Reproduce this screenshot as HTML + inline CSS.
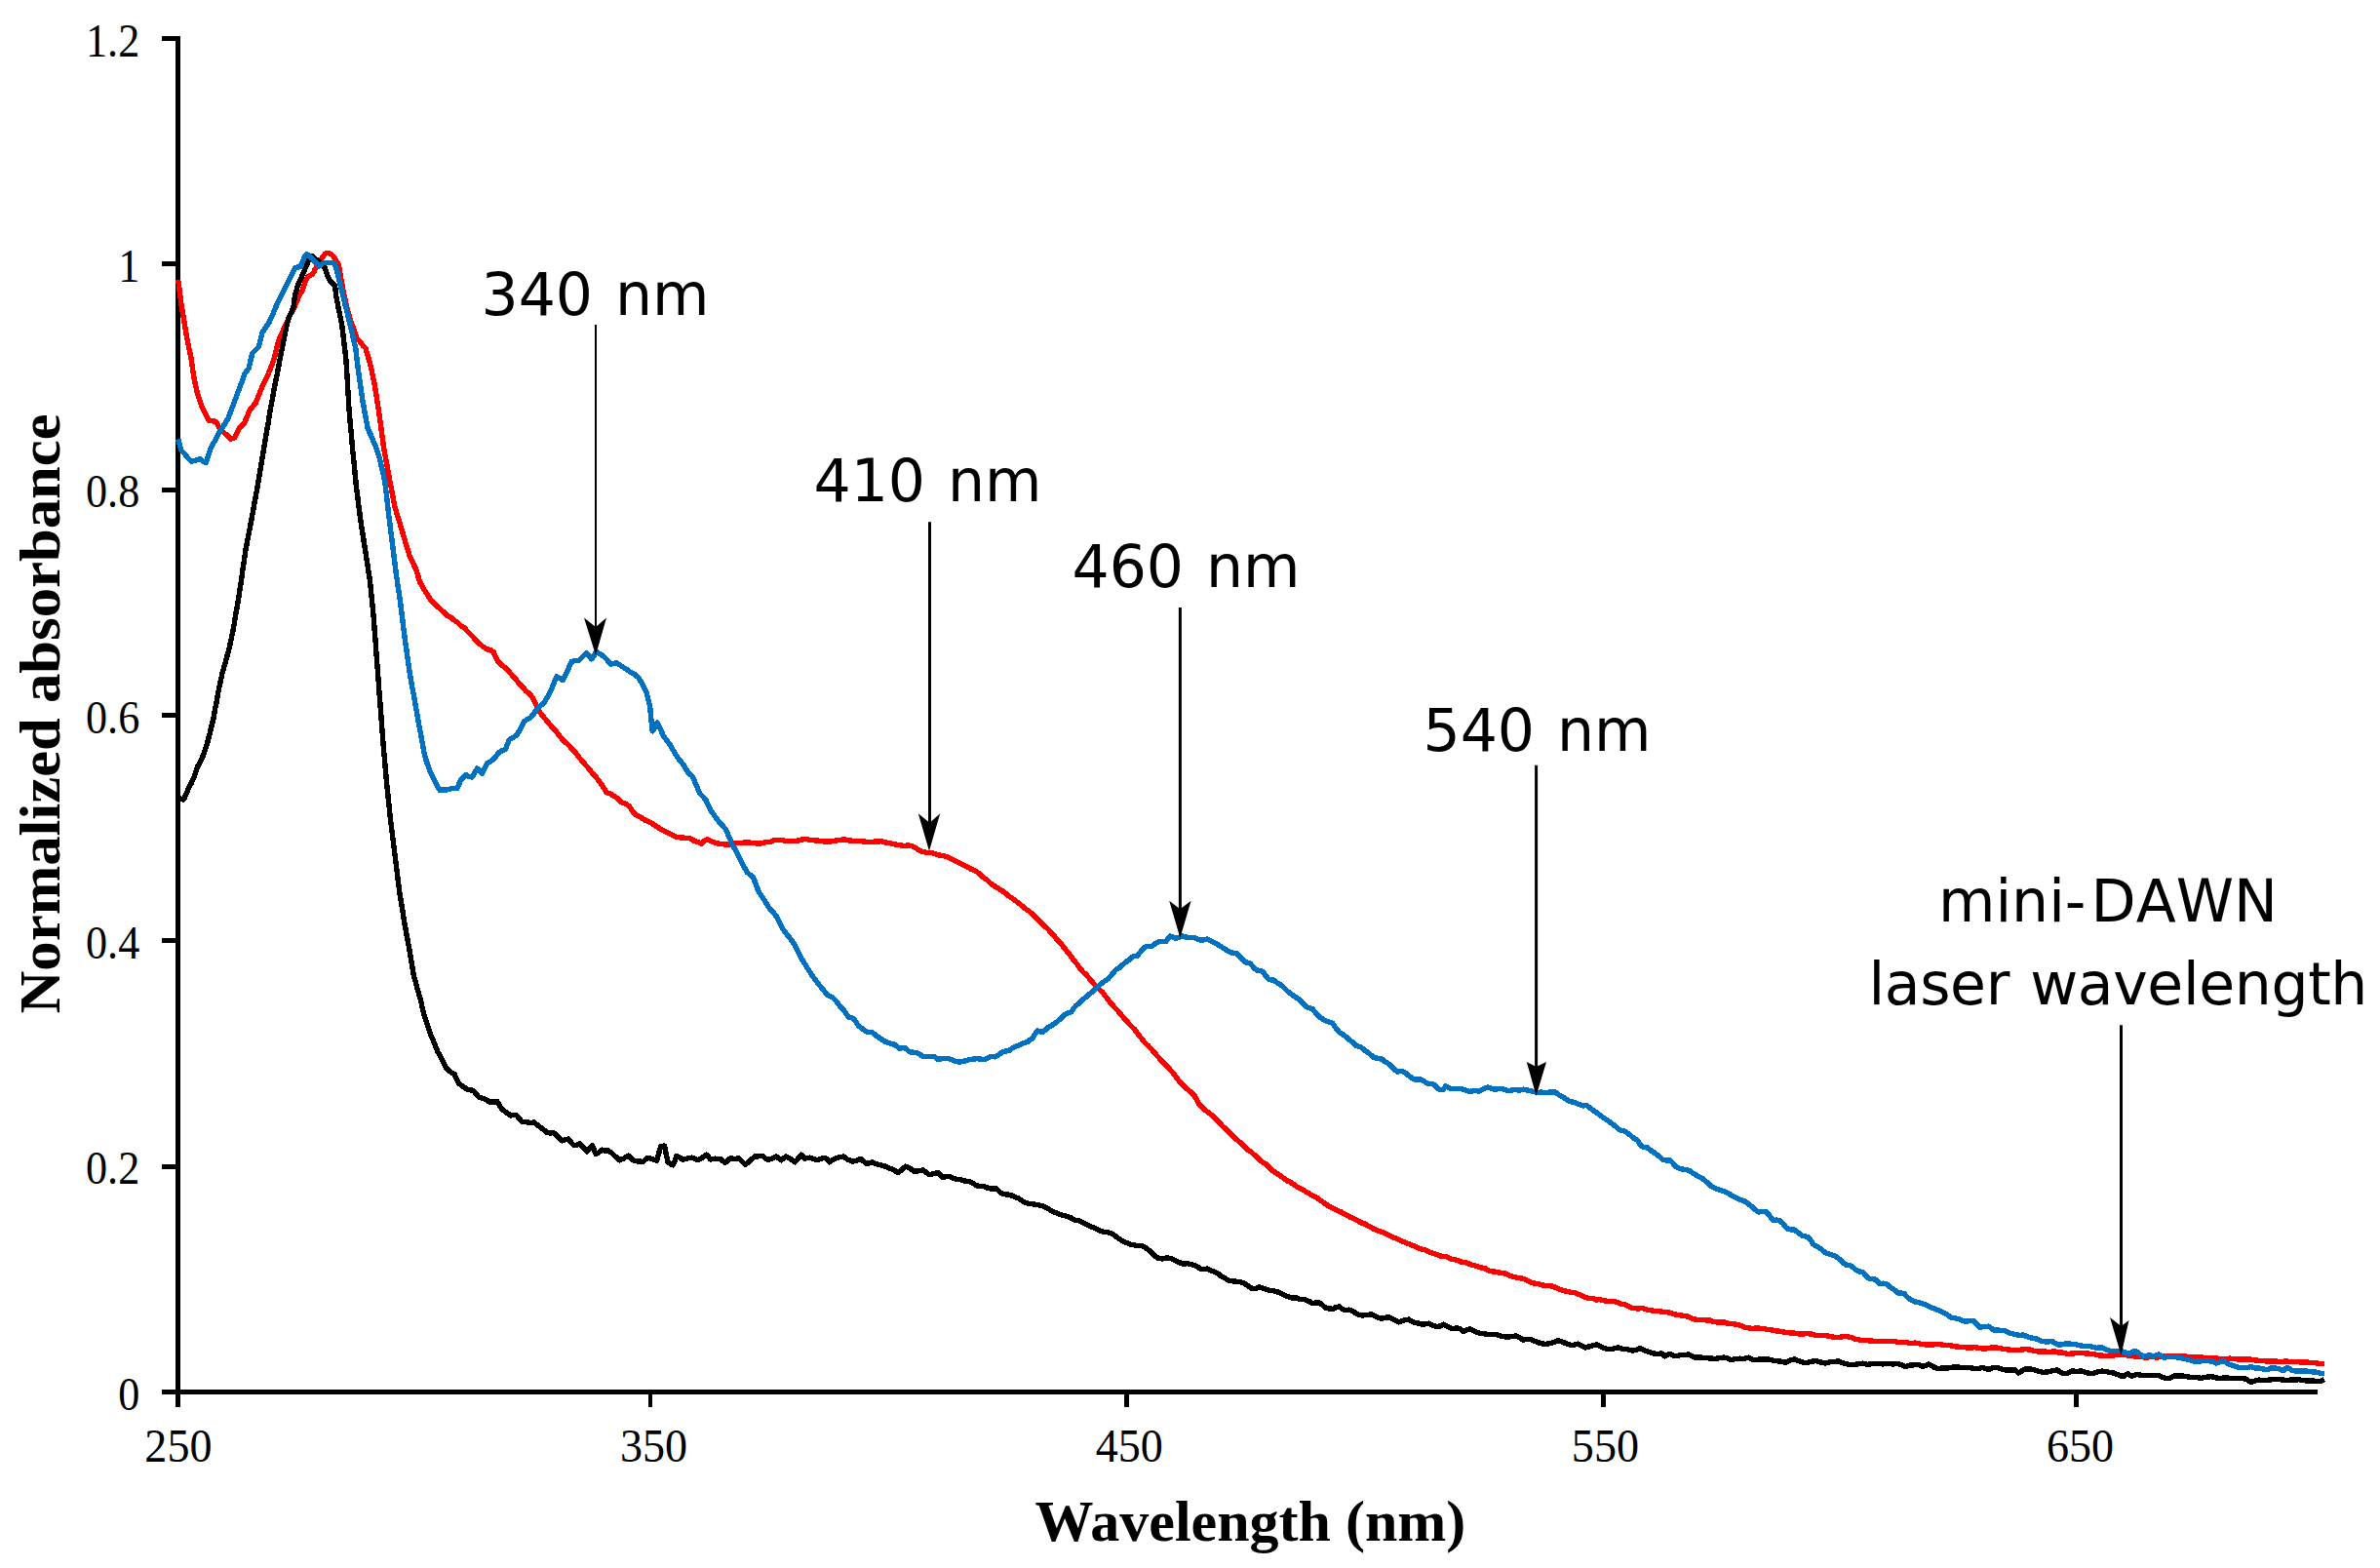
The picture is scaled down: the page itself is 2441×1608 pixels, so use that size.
<!DOCTYPE html>
<html lang="en"><head><meta charset="utf-8"><title>Normalized absorbance vs wavelength</title>
<style>html,body{margin:0;padding:0;background:#fff}body{width:2441px;height:1608px;overflow:hidden}svg{display:block}</style>
</head><body>
<svg width="2441" height="1608" viewBox="0 0 2441 1608">
<rect width="2441" height="1608" fill="#fff"/>
<g shape-rendering="crispEdges" fill="#000">
<rect x="180" y="37" width="5" height="1406"/>
<rect x="166" y="1425" width="2211" height="5"/>
<rect x="166" y="1194" width="16" height="5"/>
<rect x="166" y="962" width="16" height="5"/>
<rect x="166" y="731" width="16" height="5"/>
<rect x="166" y="500" width="16" height="5"/>
<rect x="166" y="268" width="16" height="5"/>
<rect x="166" y="37" width="16" height="5"/>
<rect x="665" y="1428" width="4" height="15"/>
<rect x="1153" y="1428" width="5" height="15"/>
<rect x="1642" y="1428" width="5" height="15"/>
<rect x="2127" y="1428" width="5" height="15"/>
</g>
<polyline class="curve" shape-rendering="crispEdges" points="182.7,287.0 183.4,292.3 184.1,297.7 184.8,303.2 185.5,308.4 186.2,313.8 187.0,318.9 187.9,324.0 188.8,329.0 189.6,334.2 190.5,339.3 191.3,344.4 192.3,349.6 193.3,354.4 194.4,359.6 195.4,364.6 196.4,369.9 197.1,375.0 197.8,380.0 198.5,385.0 199.4,389.3 200.4,394.2 201.4,398.7 202.3,403.0 204.0,408.2 205.7,413.3 207.4,418.3 209.5,422.3 211.7,426.4 213.8,431.0 217.6,431.7 221.4,432.3 223.9,436.4 226.5,441.2 229.9,443.9 233.3,446.9 236.7,450.2 240.6,448.9 243.1,443.5 245.7,438.7 248.2,436.1 250.8,433.6 252.5,429.3 254.2,425.3 255.9,420.8 259.1,417.0 262.2,413.2 264.3,408.1 266.4,402.7 268.5,397.5 270.8,392.6 273.2,387.5 275.5,382.5 277.2,378.2 278.9,374.4 280.6,369.9 281.9,365.0 283.1,359.9 284.4,354.7 285.7,349.5 288.0,344.3 290.2,339.1 292.5,334.1 294.8,329.1 296.2,326.1 298.2,321.9 300.1,318.6 302.1,314.6 303.6,310.7 305.2,307.2 306.7,303.1 309.6,299.1 311.3,293.9 313.0,288.8 315.9,283.6 320.5,281.3 321.9,278.8 323.4,275.6 325.2,272.8 327.0,269.5 330.3,264.7 333.1,260.5 335.0,259.6 337.5,259.6 340.6,261.5 342.4,263.5 344.1,266.4 345.8,269.0 347.5,272.1 348.1,276.3 348.8,280.2 349.8,285.9 350.8,291.7 351.6,296.2 352.4,300.3 353.6,305.6 354.8,310.8 356.0,316.3 357.4,321.3 358.8,326.1 360.2,330.3 361.6,334.2 363.1,338.3 364.5,342.5 366.0,347.0 369.0,350.2 372.0,354.2 375.0,357.1 376.3,361.7 377.6,365.9 378.8,370.4 380.1,375.0 381.1,379.3 382.0,383.8 382.9,388.5 383.9,392.9 384.6,397.0 385.3,401.3 386.0,405.5 386.8,410.6 387.5,415.6 388.3,420.9 389.0,425.8 389.8,431.0 390.6,436.7 391.3,442.1 392.1,447.8 392.8,453.4 393.6,459.1 394.6,464.6 395.6,470.5 396.7,476.0 397.7,481.4 398.7,487.1 399.8,492.8 400.8,498.1 401.9,503.7 403.0,509.4 404.0,514.8 405.1,520.3 406.6,525.2 408.2,530.8 409.7,535.4 411.3,540.6 412.8,545.8 414.3,551.0 415.8,555.9 417.4,561.0 418.9,566.0 420.4,571.3 422.5,575.3 424.7,579.9 426.8,584.1 428.1,588.2 429.3,592.6 430.6,596.8 433.1,601.2 435.7,605.8 438.3,609.6 440.8,613.8 443.4,617.2 447.6,621.0 451.9,624.9 456.1,628.7 459.5,631.7 462.9,633.5 466.3,636.4 469.7,638.6 473.1,641.9 476.5,644.0 479.7,647.8 482.9,650.8 486.1,654.3 489.3,658.1 492.7,660.9 496.1,663.7 499.5,665.7 502.7,666.6 505.9,668.3 508.4,673.7 511.0,678.5 515.5,682.7 519.9,686.1 523.1,690.0 526.3,693.7 529.5,697.2 532.7,701.4 535.9,704.1 539.0,708.3 542.2,710.7 545.4,714.2 548.0,719.4 550.5,724.2 553.1,729.5 556.5,734.0 559.9,738.1 563.3,742.2 567.1,746.5 571.0,750.8 574.8,755.8 578.6,760.1 582.0,763.0 585.4,766.6 588.8,770.2 592.0,774.1 595.1,778.2 598.3,781.8 601.5,785.5 604.7,789.1 607.9,793.5 611.1,796.7 614.3,800.8 616.8,804.2 619.4,808.3 621.9,812.3 625.8,814.1 629.6,816.1 633.4,818.8 637.2,822.5 641.0,824.0 644.9,826.3 647.5,830.0 650.0,834.0 653.4,836.2 656.8,837.8 660.2,840.4 665.3,842.8 670.4,845.5 674.7,848.5 678.9,851.1 683.2,853.1 688.3,855.8 693.4,858.2 697.6,858.9 701.9,859.2 706.1,859.5 709.5,860.7 712.8,862.8 716.0,863.4 719.1,865.3 722.3,862.5 725.5,860.7 730.6,863.3 735.7,864.8 740.8,865.7 745.9,866.1 750.4,866.3 754.8,864.3 759.3,864.7 763.8,864.0 769.7,864.2 775.7,864.9 781.6,864.8 785.9,863.4 790.1,863.3 794.4,861.5 800.3,861.3 806.3,862.4 812.2,862.8 816.5,862.3 820.7,861.6 825.0,860.2 829.3,861.1 833.5,861.7 837.8,862.0 842.9,862.7 848.0,863.2 853.1,862.8 857.3,861.9 861.6,861.7 865.8,860.7 870.3,861.8 874.8,862.3 879.2,862.2 883.7,862.8 888.8,863.3 893.9,863.4 899.0,862.9 904.1,862.8 908.3,864.0 912.6,864.6 916.8,865.8 921.9,866.6 927.0,867.3 932.1,867.1 937.2,868.4 941.0,870.9 944.9,873.0 950.0,874.3 955.1,874.2 959.6,876.0 964.0,877.1 968.5,877.9 973.0,879.3 977.2,881.7 981.5,883.7 985.7,885.7 990.8,888.2 995.9,891.2 1001.0,893.4 1004.8,896.1 1008.6,900.0 1012.5,902.4 1016.3,906.1 1020.1,908.8 1023.9,911.2 1027.8,913.4 1031.6,916.3 1035.4,919.4 1039.2,922.0 1043.1,925.1 1046.9,927.8 1050.7,931.4 1054.6,933.9 1058.4,936.9 1062.2,940.6 1066.0,944.2 1069.9,948.4 1073.8,951.8 1077.6,955.9 1081.0,959.4 1084.4,963.9 1087.8,967.3 1091.2,971.7 1094.6,975.8 1098.0,980.1 1101.2,984.8 1104.5,988.6 1107.7,993.1 1110.9,996.8 1114.1,999.8 1117.2,1003.5 1120.4,1007.1 1123.8,1010.8 1127.2,1014.3 1130.6,1017.3 1133.2,1021.1 1135.7,1024.1 1138.3,1027.6 1141.7,1031.5 1145.1,1035.0 1148.5,1039.0 1151.0,1041.9 1153.6,1045.4 1157.0,1048.8 1160.4,1052.5 1163.8,1055.6 1166.3,1059.3 1168.9,1062.6 1171.4,1065.8 1174.6,1069.7 1177.8,1072.6 1181.0,1076.0 1184.2,1079.8 1188.0,1084.0 1191.8,1088.3 1195.2,1091.6 1198.6,1095.2 1202.0,1099.0 1205.4,1103.3 1208.8,1107.8 1212.2,1112.0 1216.5,1115.8 1220.7,1119.5 1225.0,1123.5 1227.5,1128.4 1230.1,1132.7 1234.6,1137.2 1239.0,1140.6 1243.5,1144.1 1248.0,1148.5 1251.2,1151.3 1254.3,1155.4 1257.5,1157.8 1260.7,1161.5 1264.5,1165.2 1268.3,1168.6 1272.2,1171.8 1276.0,1175.5 1279.8,1179.2 1283.7,1181.7 1287.5,1185.2 1291.3,1189.0 1294.7,1191.6 1298.1,1193.8 1301.5,1197.0 1304.0,1199.6 1306.6,1201.5 1310.9,1204.2 1315.1,1207.1 1319.4,1210.5 1324.5,1212.9 1329.6,1216.6 1334.7,1219.4 1339.8,1222.2 1344.9,1225.3 1350.0,1228.0 1353.8,1230.7 1357.7,1233.4 1361.5,1236.0 1365.3,1238.0 1370.4,1240.9 1375.5,1243.0 1380.6,1246.0 1385.7,1248.6 1390.8,1250.8 1395.9,1253.8 1400.4,1255.3 1404.8,1258.0 1409.3,1260.4 1413.8,1262.2 1418.2,1263.7 1422.7,1265.8 1427.1,1267.9 1431.6,1270.0 1436.7,1272.4 1441.8,1274.3 1446.9,1276.5 1452.0,1278.5 1457.1,1280.7 1462.2,1282.1 1467.3,1284.5 1472.4,1286.0 1477.5,1288.1 1482.7,1288.4 1487.8,1291.1 1492.9,1292.0 1498.0,1293.9 1503.1,1294.6 1508.2,1296.7 1513.3,1298.1 1518.4,1299.7 1523.5,1301.0 1526.3,1302.8 1529.1,1303.6 1534.2,1304.3 1539.3,1305.4 1544.4,1306.1 1548.2,1308.1 1552.0,1309.2 1557.1,1310.6 1562.2,1311.2 1567.3,1313.8 1572.4,1315.8 1577.6,1316.6 1582.7,1318.1 1586.5,1318.6 1590.3,1318.6 1595.4,1320.3 1600.5,1322.7 1605.6,1324.0 1610.7,1325.2 1615.8,1325.8 1620.1,1327.8 1624.3,1329.8 1628.6,1331.4 1632.8,1331.4 1637.1,1332.9 1641.3,1332.7 1645.6,1333.9 1649.8,1334.4 1654.1,1334.2 1658.3,1335.5 1662.6,1337.1 1666.8,1338.0 1670.0,1339.3 1673.2,1341.1 1679.0,1342.0 1684.7,1341.6 1689.8,1343.3 1694.9,1344.1 1700.7,1344.5 1706.4,1345.4 1712.2,1346.1 1717.9,1348.0 1722.1,1348.6 1726.4,1349.4 1730.6,1350.0 1734.4,1351.9 1738.3,1353.1 1743.4,1353.4 1748.5,1353.8 1753.3,1353.8 1758.0,1355.7 1762.8,1355.9 1767.9,1355.8 1773.0,1357.5 1778.1,1357.7 1782.3,1358.5 1786.6,1360.0 1790.8,1361.5 1796.5,1362.4 1802.3,1362.0 1808.0,1362.5 1813.8,1363.5 1818.0,1364.1 1822.3,1365.0 1826.5,1365.3 1831.6,1366.5 1836.7,1366.9 1841.8,1367.3 1846.9,1368.2 1852.0,1367.7 1857.1,1367.9 1862.2,1369.4 1867.3,1369.6 1872.4,1369.7 1877.6,1370.6 1882.7,1371.7 1887.8,1371.1 1892.9,1370.4 1898.0,1371.4 1903.1,1373.3 1908.2,1374.2 1913.3,1374.7 1918.4,1374.9 1923.5,1375.7 1928.6,1375.5 1933.7,1375.8 1938.8,1375.5 1943.9,1375.8 1949.0,1376.7 1954.1,1376.3 1959.2,1377.5 1964.3,1377.1 1969.4,1378.1 1974.5,1378.8 1979.6,1379.2 1984.7,1378.7 1989.8,1378.8 1994.9,1379.6 2000.0,1379.7 2005.1,1380.8 2010.2,1381.4 2015.3,1381.7 2020.4,1382.2 2025.5,1381.6 2030.6,1382.7 2035.7,1383.2 2040.8,1382.2 2045.9,1381.9 2050.4,1382.4 2054.9,1383.6 2059.3,1383.9 2063.8,1384.4 2068.0,1384.2 2072.3,1384.2 2076.5,1383.7 2081.6,1383.9 2086.7,1385.4 2091.8,1386.2 2096.9,1385.9 2102.0,1386.6 2107.1,1385.7 2111.4,1387.2 2115.6,1387.1 2119.9,1388.3 2125.9,1388.1 2131.8,1387.4 2137.8,1387.8 2142.9,1388.2 2148.0,1388.8 2153.1,1390.0 2158.2,1390.3 2163.7,1390.7 2169.2,1389.7 2174.7,1389.5 2180.1,1389.7 2185.6,1390.1 2191.0,1391.3 2196.4,1391.6 2201.5,1392.3 2206.6,1391.0 2211.7,1392.0 2216.8,1391.6 2222.8,1390.6 2228.7,1390.6 2234.7,1390.8 2239.8,1390.7 2244.9,1391.7 2250.0,1391.5 2255.1,1392.1 2260.2,1392.2 2265.3,1392.9 2270.4,1392.5 2275.5,1393.4 2281.2,1393.9 2287.0,1393.1 2292.8,1393.8 2298.5,1393.9 2303.6,1393.9 2308.7,1394.2 2313.8,1395.1 2318.9,1395.4 2324.0,1395.9 2329.2,1395.9 2334.4,1396.1 2339.6,1396.4 2344.8,1396.0 2350.0,1396.7 2355.0,1396.3 2360.0,1397.0 2365.0,1396.8 2369.8,1397.4 2374.5,1397.6 2379.2,1398.5 2384.0,1398.4" fill="none" stroke="#ff0000" stroke-width="5.4" stroke-linejoin="round" stroke-linecap="butt"/>
<polyline class="curve" shape-rendering="crispEdges" points="183.2,818.7 188.3,820.0 190.0,816.5 191.7,812.6 193.4,808.5 195.9,803.7 198.5,798.3 199.8,794.2 201.0,790.7 202.3,786.8 204.7,782.6 207.0,778.5 208.8,773.3 210.7,767.7 212.5,762.7 213.8,757.4 215.1,752.4 216.3,747.2 217.6,742.2 218.9,737.1 219.9,731.3 220.9,725.7 222.0,720.4 223.0,714.7 224.0,709.1 224.9,704.6 225.9,700.2 226.9,695.6 227.8,691.2 229.4,685.3 231.0,679.9 232.6,674.1 234.2,668.3 235.5,662.6 236.8,656.9 238.0,651.3 239.3,645.3 240.2,639.8 241.1,634.4 242.0,628.8 243.0,623.4 243.9,618.0 244.8,612.4 245.7,607.0 246.5,601.5 247.3,596.2 248.1,590.8 248.8,585.4 249.6,579.9 250.4,574.6 251.2,569.0 252.0,563.7 253.1,558.0 254.1,552.6 255.2,547.2 256.3,541.4 257.3,535.9 258.4,530.5 259.3,525.3 260.2,520.1 261.1,515.1 262.1,510.1 263.0,505.1 263.9,499.8 264.8,494.8 265.7,489.3 266.6,483.8 267.5,478.3 268.5,473.0 269.4,467.5 270.3,461.9 271.2,456.5 272.1,450.9 273.0,445.7 273.9,440.2 274.9,434.8 275.8,429.1 276.7,423.8 277.6,418.3 278.6,413.1 279.6,407.7 280.5,402.5 281.5,397.0 282.7,391.2 283.8,385.9 285.0,380.0 285.8,375.4 286.6,371.1 287.5,366.5 288.3,362.2 289.4,357.1 290.4,351.9 291.5,346.8 292.5,341.5 293.6,336.4 294.6,331.0 296.1,326.1 297.7,322.3 299.4,318.8 301.0,314.6 301.7,308.9 302.4,303.1 304.1,297.3 305.9,291.7 307.6,288.2 309.3,283.9 311.0,280.2 312.6,276.2 314.3,272.3 315.9,268.7 317.0,265.8 318.2,263.0 320.0,262.5 323.4,265.3 327.4,268.7 330.2,271.2 333.1,274.4 334.6,279.0 336.0,283.1 337.4,286.3 338.9,288.8 341.2,290.5 343.5,292.8 344.1,297.9 344.6,303.1 345.8,308.9 346.9,314.6 348.0,320.2 349.2,326.1 350.0,330.2 350.8,334.2 351.4,339.6 352.1,344.7 352.7,350.1 353.3,355.5 354.0,360.7 354.6,366.0 355.0,370.7 355.3,375.6 355.6,380.3 356.0,385.0 356.3,390.6 356.6,396.1 356.9,401.6 357.3,407.2 357.6,412.8 357.9,418.3 358.4,423.7 358.8,429.1 359.3,434.5 359.8,439.9 360.3,445.4 360.8,450.8 361.2,456.2 361.7,461.6 362.3,467.1 362.8,472.5 363.4,478.0 363.9,483.4 364.5,489.0 365.0,494.5 365.6,499.9 366.2,504.9 366.9,510.2 367.5,515.1 368.1,520.3 368.8,525.4 369.4,530.5 370.2,535.9 371.1,541.6 371.9,547.1 372.8,552.6 373.6,558.2 374.5,563.7 375.4,569.1 376.2,574.7 377.1,580.3 377.9,585.6 378.8,591.4 379.6,596.8 380.1,602.2 380.7,607.8 381.2,613.1 381.8,618.7 382.3,624.1 382.9,629.5 383.4,635.1 383.8,640.8 384.2,646.4 384.7,652.1 385.1,657.8 385.5,663.4 385.9,669.1 386.4,674.7 386.8,680.5 387.2,686.1 387.6,691.7 388.1,697.5 388.5,703.2 388.9,708.8 389.4,714.5 389.8,720.1 390.2,725.8 390.7,731.4 391.1,737.1 391.5,742.6 391.9,748.2 392.4,753.8 392.8,759.5 393.2,765.0 393.7,770.5 394.2,776.1 394.7,781.6 395.2,787.3 395.7,792.7 396.2,798.3 396.7,803.8 397.3,809.2 397.8,814.6 398.4,820.0 398.9,825.5 399.5,831.0 400.0,836.5 400.7,842.4 401.5,848.2 402.2,853.9 402.9,859.8 403.6,865.5 404.4,871.5 405.1,877.3 405.8,883.1 406.6,889.1 407.3,894.8 408.0,900.8 408.7,906.4 409.5,912.5 410.2,918.2 411.1,923.3 411.9,928.2 412.8,933.6 413.6,938.5 414.4,943.7 415.3,948.8 416.3,954.3 417.3,960.1 418.4,965.4 419.4,971.3 420.4,976.8 421.3,982.5 422.3,988.4 423.2,994.0 424.2,999.8 425.8,1005.3 427.4,1011.5 429.0,1017.1 430.6,1022.8 431.9,1027.7 433.1,1033.2 434.4,1038.3 435.7,1043.2 437.4,1048.1 439.1,1053.1 440.8,1058.5 442.7,1063.3 444.6,1067.8 446.6,1073.0 448.5,1077.6 451.1,1082.4 453.6,1087.3 456.1,1092.0 458.7,1096.7 462.5,1099.6 466.3,1101.8 468.2,1106.5 470.2,1110.8 474.6,1114.1 479.1,1117.1 482.3,1117.9 485.5,1118.4 488.1,1121.4 490.6,1124.8 494.4,1126.0 498.2,1127.7 502.0,1129.9 505.9,1130.2 509.7,1129.4 512.2,1133.3 514.8,1137.6 519.2,1140.7 523.7,1143.9 526.9,1143.6 530.1,1143.9 532.7,1147.2 535.2,1150.3 539.5,1150.6 543.7,1151.4 548.0,1151.1 550.0,1152.8 553.8,1155.7 557.7,1158.6 561.5,1161.7 564.7,1161.9 567.9,1161.7 570.9,1164.7 573.8,1167.6 576.8,1169.9 580.0,1168.7 583.2,1168.1 585.8,1171.7 588.3,1174.5 591.5,1174.3 594.6,1172.7 598.5,1177.3 602.3,1180.9 604.8,1177.4 607.4,1174.5 609.3,1178.9 611.2,1183.4 614.4,1181.6 617.6,1179.1 620.8,1180.1 624.0,1180.1 627.8,1182.8 631.7,1186.5 635.5,1189.8 640.0,1187.8 644.4,1185.2 647.6,1188.2 650.8,1190.6 655.2,1191.0 659.7,1191.3 662.2,1188.9 664.8,1187.2 669.2,1188.6 673.7,1190.3 675.0,1185.2 676.3,1180.5 677.6,1175.8 681.4,1175.0 682.7,1180.7 683.9,1186.7 685.2,1192.3 690.3,1194.9 692.2,1190.1 694.1,1185.2 697.3,1187.2 700.5,1189.3 705.0,1187.9 709.4,1187.2 712.6,1188.3 715.8,1189.8 720.2,1187.2 724.7,1184.2 726.7,1186.5 728.6,1189.0 733.7,1188.2 738.8,1188.5 741.3,1190.8 743.9,1192.3 746.5,1190.1 749.0,1187.8 753.5,1188.5 757.9,1187.8 761.1,1191.1 764.3,1194.4 767.7,1191.7 771.1,1188.7 774.5,1186.0 778.3,1185.8 782.1,1185.2 784.7,1187.7 787.2,1189.3 791.7,1188.3 796.2,1186.0 798.8,1188.1 801.3,1189.8 803.8,1187.8 806.4,1186.0 810.8,1188.4 815.3,1191.8 818.5,1188.3 821.7,1184.2 825.5,1188.0 830.6,1187.2 834.5,1188.4 838.3,1189.8 842.1,1188.3 845.9,1187.2 848.5,1189.0 851.0,1191.8 854.2,1189.3 857.4,1187.8 861.2,1186.7 865.1,1186.0 869.5,1189.1 874.0,1191.1 878.5,1190.1 882.9,1188.5 886.1,1191.3 889.3,1193.6 894.4,1191.8 898.8,1193.6 903.3,1194.9 907.8,1196.1 912.2,1198.0 916.7,1199.9 921.2,1202.6 925.0,1199.5 928.8,1196.2 933.3,1198.2 937.8,1201.3 942.2,1200.8 946.7,1200.0 949.9,1202.3 953.1,1204.6 957.5,1203.7 962.0,1202.6 964.5,1204.8 967.1,1207.7 970.3,1206.4 973.5,1206.4 977.3,1208.0 981.1,1209.7 985.4,1209.8 989.6,1211.1 993.9,1211.5 997.7,1213.4 1001.5,1215.8 1005.4,1216.4 1009.2,1216.6 1013.0,1218.2 1016.8,1219.1 1021.9,1219.1 1024.5,1221.5 1027.0,1223.7 1031.3,1224.8 1035.5,1225.3 1039.8,1226.8 1044.9,1229.1 1050.0,1232.5 1055.1,1234.4 1060.2,1234.9 1065.3,1235.8 1070.4,1237.0 1075.5,1239.9 1080.6,1242.9 1085.1,1244.5 1089.5,1246.3 1094.0,1247.2 1098.5,1249.0 1102.7,1251.3 1107.0,1251.8 1111.2,1254.1 1116.3,1256.8 1121.4,1258.9 1126.5,1261.2 1131.6,1263.3 1136.7,1263.8 1141.8,1265.8 1145.9,1269.1 1150.0,1271.9 1153.6,1273.7 1158.7,1275.9 1163.8,1277.0 1167.6,1277.6 1171.4,1277.6 1175.2,1279.7 1179.1,1282.7 1182.9,1286.7 1186.7,1289.8 1191.8,1290.9 1196.9,1289.9 1202.0,1290.8 1207.4,1293.8 1212.8,1295.9 1217.9,1295.8 1223.0,1296.9 1227.5,1298.7 1231.9,1301.5 1235.1,1301.7 1238.3,1301.0 1243.4,1303.5 1248.5,1305.4 1252.3,1308.5 1256.1,1310.6 1259.9,1313.0 1265.0,1313.9 1270.2,1314.4 1275.3,1315.6 1279.8,1318.6 1284.2,1321.4 1288.0,1321.4 1291.8,1319.9 1296.9,1321.5 1302.0,1323.2 1307.1,1324.0 1311.6,1325.3 1316.0,1327.8 1320.5,1329.5 1325.0,1330.9 1329.3,1330.9 1333.5,1332.6 1337.8,1332.7 1342.2,1334.3 1346.7,1336.7 1349.9,1335.9 1353.1,1336.0 1356.2,1338.1 1359.4,1341.1 1363.2,1341.9 1367.1,1342.3 1370.3,1340.6 1373.5,1339.8 1376.7,1342.3 1379.8,1343.6 1383.7,1343.2 1387.5,1344.4 1390.7,1346.9 1393.9,1348.7 1398.1,1348.9 1402.4,1348.3 1406.6,1348.0 1411.1,1350.1 1415.6,1352.0 1420.0,1351.7 1424.5,1350.5 1429.6,1353.4 1434.7,1355.9 1439.8,1354.0 1444.9,1353.1 1448.1,1355.1 1451.3,1356.4 1455.1,1357.1 1458.9,1358.2 1462.1,1357.8 1465.3,1357.1 1469.2,1358.9 1473.0,1360.7 1476.8,1360.0 1480.6,1358.2 1484.4,1360.1 1488.3,1362.2 1491.4,1362.5 1494.6,1361.7 1497.8,1363.0 1501.0,1365.3 1504.2,1363.8 1507.4,1362.8 1512.5,1365.3 1517.6,1367.3 1522.3,1367.8 1526.9,1368.5 1531.6,1368.4 1535.9,1368.8 1540.1,1370.5 1544.4,1370.9 1549.5,1370.8 1554.6,1369.9 1558.4,1371.6 1562.2,1374.2 1566.1,1373.3 1569.9,1373.5 1575.0,1375.7 1580.1,1377.6 1585.2,1378.4 1590.3,1377.6 1594.2,1376.3 1598.0,1374.7 1602.2,1376.1 1606.5,1377.8 1610.7,1379.3 1614.6,1379.2 1618.4,1378.1 1622.2,1380.0 1626.0,1381.9 1631.8,1380.4 1637.5,1378.8 1641.3,1380.6 1645.2,1382.6 1649.0,1383.7 1654.1,1383.2 1659.2,1381.9 1664.3,1383.5 1669.4,1383.8 1674.5,1385.2 1678.3,1384.1 1682.1,1382.7 1687.2,1385.0 1692.3,1386.7 1697.4,1388.3 1700.6,1388.7 1703.8,1387.8 1707.7,1390.8 1712.8,1388.3 1715.9,1390.1 1719.1,1390.8 1723.4,1389.7 1727.6,1389.6 1731.9,1389.0 1735.1,1390.4 1738.3,1392.1 1743.4,1391.9 1748.5,1392.6 1753.6,1392.9 1758.4,1393.4 1763.1,1392.8 1767.9,1392.1 1771.7,1392.8 1775.5,1394.6 1780.0,1393.6 1784.5,1393.2 1788.9,1393.3 1793.4,1392.1 1798.5,1394.6 1803.6,1394.2 1808.7,1393.9 1814.4,1394.2 1820.2,1395.6 1825.9,1396.0 1831.6,1397.2 1836.1,1394.9 1840.6,1393.9 1845.0,1395.7 1849.5,1397.2 1853.7,1397.3 1858.0,1396.4 1862.2,1395.4 1867.3,1397.0 1872.4,1398.0 1876.7,1396.8 1880.9,1396.7 1885.2,1395.9 1890.3,1397.7 1895.4,1399.2 1900.5,1399.5 1905.6,1398.9 1910.7,1398.1 1915.8,1399.4 1920.9,1398.2 1926.0,1398.5 1931.1,1398.9 1936.2,1398.4 1941.3,1398.9 1946.4,1398.5 1950.2,1399.8 1954.1,1401.5 1958.3,1400.1 1962.6,1399.9 1966.8,1399.2 1971.9,1401.5 1975.1,1400.2 1978.3,1399.0 1982.8,1401.7 1987.2,1403.6 1992.3,1403.0 1997.5,1403.0 2002.6,1402.1 2007.7,1401.8 2013.6,1402.8 2019.6,1402.5 2025.5,1403.6 2029.3,1403.5 2033.2,1402.3 2037.0,1403.8 2040.8,1404.1 2044.7,1402.5 2048.5,1402.3 2053.6,1404.3 2057.8,1405.0 2062.1,1405.1 2066.3,1404.8 2070.2,1407.9 2073.3,1406.2 2076.5,1404.1 2081.6,1403.8 2086.7,1404.8 2091.2,1406.4 2095.7,1407.4 2100.4,1406.9 2105.0,1405.8 2109.7,1404.8 2113.5,1407.3 2117.3,1408.7 2121.2,1408.0 2125.0,1406.1 2130.1,1406.3 2135.2,1406.1 2140.9,1408.0 2146.7,1408.7 2151.1,1406.9 2155.6,1406.1 2159.9,1406.5 2164.1,1407.5 2168.4,1408.2 2172.9,1410.0 2177.3,1411.7 2182.4,1408.7 2186.2,1411.2 2191.3,1409.4 2197.1,1410.4 2202.8,1410.3 2208.6,1410.6 2214.3,1410.7 2218.1,1412.4 2221.9,1413.8 2225.8,1413.1 2229.6,1411.2 2234.7,1411.0 2239.8,1411.2 2244.3,1412.1 2248.8,1412.4 2253.2,1412.6 2257.7,1413.3 2262.8,1412.3 2267.9,1411.7 2271.7,1412.3 2275.5,1413.8 2280.6,1412.9 2285.7,1413.2 2290.8,1413.3 2295.1,1413.3 2299.3,1413.3 2303.6,1414.3 2306.1,1415.9 2308.7,1417.6 2312.5,1416.2 2316.3,1415.1 2322.3,1415.5 2328.2,1415.0 2334.2,1414.3 2339.5,1414.8 2344.7,1415.4 2350.0,1415.1 2354.0,1414.9 2358.0,1414.8 2362.0,1415.6 2366.7,1416.1 2371.3,1415.8 2376.0,1416.5 2380.0,1416.3 2384.0,1414.8" fill="none" stroke="#000" stroke-width="5.4" stroke-linejoin="round" stroke-linecap="butt"/>
<polyline class="curve" shape-rendering="crispEdges" points="182.7,450.2 184.2,456.0 185.7,461.6 189.1,465.0 192.5,469.4 195.9,473.1 200.4,472.4 204.8,470.6 208.0,472.9 211.2,474.4 212.9,469.3 214.6,464.3 216.3,459.1 218.9,454.5 221.4,450.2 223.9,445.3 226.5,441.2 229.1,437.1 231.6,432.8 234.2,428.5 236.1,423.2 238.0,418.2 239.9,413.4 241.8,408.1 243.7,403.0 245.6,398.4 247.5,393.0 249.2,388.3 251.0,383.0 253.1,380.6 255.1,377.6 256.4,372.3 257.6,367.1 258.9,362.2 262.1,358.8 265.3,355.9 266.6,350.7 267.8,345.8 269.1,340.6 271.5,337.4 273.9,333.6 276.3,330.0 278.6,324.8 281.0,319.5 283.3,313.8 285.6,308.9 287.6,305.1 289.5,301.0 291.5,297.4 293.3,293.5 295.2,289.3 297.0,285.9 299.1,281.7 301.3,277.3 303.0,274.5 308.0,273.5 309.2,271.1 310.5,268.0 312.5,262.5 314.2,260.8 316.5,262.0 320.1,265.2 323.8,269.4 327.4,273.0 332.0,269.5 337.7,269.3 343.0,270.0 344.6,274.4 346.1,279.9 347.5,285.9 348.9,291.6 350.4,297.4 351.8,303.0 353.2,308.9 354.6,314.8 356.1,320.4 357.2,325.3 358.4,330.0 359.7,335.6 361.0,340.7 362.2,346.4 363.5,351.8 364.8,357.1 365.5,362.8 366.1,368.7 366.8,374.3 367.5,380.0 368.2,385.0 369.0,390.3 369.7,395.3 370.4,400.3 371.2,405.5 371.9,410.6 372.9,416.0 373.9,421.8 375.0,427.5 376.0,432.9 377.0,438.7 378.9,443.3 380.9,447.3 382.8,452.2 384.7,456.5 386.4,461.5 388.1,466.4 389.8,471.8 391.1,477.8 392.4,483.1 393.6,488.9 394.9,494.8 395.5,500.3 396.2,505.8 396.8,511.4 397.4,516.9 398.1,522.5 398.7,528.0 399.4,533.1 400.0,538.1 400.6,543.2 401.3,548.5 402.0,553.5 402.6,558.6 403.2,563.7 403.9,568.9 404.5,573.7 405.1,578.9 405.8,584.1 406.4,589.2 407.2,594.1 407.9,599.5 408.7,604.5 409.4,609.5 410.2,614.7 410.9,620.4 411.7,626.5 412.4,632.0 413.1,638.1 413.8,643.9 414.6,649.8 415.3,655.5 416.0,660.7 416.8,665.6 417.5,670.8 418.2,676.0 418.9,680.8 419.7,686.2 420.4,691.2 421.3,696.4 422.2,701.3 423.1,706.7 424.1,711.5 425.0,716.5 425.9,721.7 426.8,726.9 427.8,732.2 428.7,737.2 429.6,742.7 430.6,747.9 431.6,753.2 432.5,758.5 433.6,764.2 434.6,769.8 435.7,775.3 437.4,780.7 439.1,785.7 440.8,790.6 442.9,795.2 445.1,799.5 447.2,803.4 449.1,807.2 451.0,810.3 455.5,810.0 460.0,809.7 464.4,808.4 468.9,808.5 470.8,804.0 472.7,799.5 475.2,797.1 477.8,794.4 481.0,796.4 484.2,797.0 486.8,792.7 489.3,788.1 491.9,790.7 494.4,793.2 496.9,787.8 499.5,783.0 503.3,780.6 507.1,777.9 509.7,774.2 512.2,771.5 515.4,769.5 518.6,768.4 520.5,763.1 522.4,758.5 526.2,756.4 530.1,753.7 532.7,749.4 535.2,744.4 537.8,739.7 541.0,737.3 544.1,735.9 547.1,732.3 550.1,727.9 553.1,724.4 555.7,722.8 558.2,720.6 560.7,716.1 563.3,711.6 565.8,706.5 567.5,702.0 569.2,697.8 570.9,693.8 574.1,695.5 577.3,697.6 579.5,692.5 581.8,688.4 584.0,683.4 586.2,678.5 590.0,677.2 593.9,677.2 597.7,673.3 601.5,669.5 604.0,672.3 606.6,675.9 609.2,672.5 611.7,668.3 615.5,670.7 619.4,673.4 622.6,676.7 625.8,681.0 629.0,680.7 632.1,679.7 635.5,681.6 638.9,684.2 642.3,686.1 646.6,689.4 650.8,691.5 655.1,695.0 657.7,699.7 660.2,704.8 662.8,709.1 664.1,714.1 665.3,719.2 666.6,724.4 667.1,729.5 667.6,734.5 668.1,739.8 668.6,744.9 669.1,749.9 671.7,745.8 674.2,741.0 676.3,745.9 678.5,750.4 680.6,755.0 683.2,758.4 685.7,761.8 688.3,765.2 690.5,769.5 692.8,773.5 696.4,778.7 700.0,783.0 703.0,787.7 706.0,793.0 710.2,796.0 712.1,800.5 714.0,805.0 715.9,809.3 717.8,814.0 720.9,816.9 724.0,820.5 726.5,826.0 729.0,831.0 732.1,835.4 735.2,839.9 738.3,844.0 741.5,847.2 744.6,851.0 746.6,855.7 748.5,860.1 750.5,865.0 753.2,869.9 756.0,875.1 758.7,880.6 761.2,885.4 763.8,890.2 766.3,894.6 769.5,897.2 772.7,899.7 774.4,904.6 776.1,908.8 777.8,913.8 780.7,918.3 783.5,922.4 786.4,927.2 789.3,931.6 793.1,935.8 796.9,940.6 798.9,944.5 801.0,949.2 803.0,953.0 806.5,957.5 810.0,961.7 813.5,966.5 815.8,970.9 818.1,975.1 820.4,979.9 822.7,984.0 825.5,988.4 828.4,993.3 831.2,997.6 834.0,1002.0 837.6,1006.7 841.2,1011.2 844.9,1015.7 848.5,1020.2 853.6,1022.7 857.4,1026.5 861.3,1031.5 865.1,1035.5 867.7,1039.4 870.2,1043.1 875.3,1044.4 877.8,1047.9 880.4,1052.0 884.8,1055.2 889.3,1058.4 894.4,1058.4 899.1,1062.4 903.7,1065.4 908.4,1068.6 912.8,1070.0 917.3,1071.2 919.8,1073.1 922.4,1075.0 927.6,1074.5 930.2,1076.1 932.7,1078.8 936.5,1079.2 940.3,1079.6 943.5,1081.4 946.7,1083.4 952.5,1083.7 958.2,1083.4 962.0,1086.5 966.5,1085.6 970.9,1085.2 975.3,1086.3 979.8,1088.5 983.8,1089.1 987.8,1088.5 992.4,1087.2 996.9,1086.2 1001.5,1085.7 1005.4,1086.0 1009.2,1086.5 1012.4,1085.6 1015.6,1083.4 1020.7,1083.9 1023.9,1082.0 1027.0,1079.6 1030.8,1078.0 1034.7,1077.6 1038.5,1074.8 1042.3,1073.0 1046.1,1071.5 1050.0,1069.4 1053.8,1068.6 1056.3,1066.4 1058.9,1064.8 1061.5,1060.6 1064.0,1057.1 1069.1,1058.4 1072.3,1056.3 1075.5,1053.3 1078.9,1051.5 1082.3,1049.2 1085.7,1046.4 1088.9,1043.7 1092.1,1040.6 1095.3,1038.6 1098.5,1038.0 1101.0,1034.3 1103.6,1031.1 1107.0,1028.7 1110.4,1024.9 1113.8,1022.7 1117.2,1019.6 1120.6,1016.8 1124.0,1013.3 1128.2,1009.8 1132.5,1006.6 1136.7,1003.6 1140.6,999.2 1144.4,994.6 1147.2,992.9 1150.0,990.8 1153.7,987.2 1157.5,984.7 1161.2,981.1 1166.3,980.4 1170.2,975.5 1174.0,971.4 1177.8,970.2 1181.6,970.2 1184.8,967.8 1188.0,965.8 1191.8,965.2 1195.7,965.6 1197.8,962.7 1200.0,959.9 1203.0,961.0 1205.9,962.5 1209.1,961.5 1212.2,959.9 1216.5,961.0 1220.7,961.6 1225.0,961.7 1230.1,963.8 1233.9,964.0 1237.8,963.0 1242.9,965.2 1248.0,968.1 1253.1,971.3 1258.2,974.4 1263.3,977.0 1268.4,977.8 1271.4,981.1 1274.3,983.6 1277.3,986.7 1282.4,988.0 1285.6,991.9 1288.8,994.9 1292.0,995.4 1295.2,996.4 1298.3,1000.9 1301.5,1004.6 1306.6,1005.1 1310.0,1007.9 1313.4,1009.7 1316.8,1012.8 1320.7,1016.6 1324.5,1019.4 1328.3,1022.3 1332.1,1024.5 1335.1,1027.5 1338.1,1030.8 1341.1,1033.2 1346.2,1034.7 1350.0,1039.5 1353.8,1043.4 1358.3,1046.1 1362.8,1048.0 1366.6,1049.2 1369.1,1052.9 1371.7,1056.2 1374.2,1059.4 1377.4,1060.8 1380.6,1063.3 1384.0,1066.4 1387.4,1068.7 1390.8,1072.2 1395.9,1074.0 1400.2,1077.4 1404.4,1080.4 1408.7,1084.2 1413.2,1085.5 1417.6,1086.2 1420.8,1089.0 1424.0,1090.8 1427.0,1093.2 1429.9,1096.3 1432.9,1099.0 1436.1,1098.6 1439.3,1099.0 1441.8,1100.3 1446.3,1104.3 1450.8,1107.1 1453.9,1107.1 1457.1,1107.1 1460.9,1109.0 1464.8,1111.7 1469.9,1111.7 1473.1,1114.7 1476.3,1117.3 1480.1,1117.3 1482.7,1113.8 1485.8,1115.3 1489.0,1116.8 1493.5,1116.6 1498.0,1116.3 1502.5,1117.8 1506.9,1119.4 1512.0,1118.6 1517.1,1118.9 1521.5,1116.5 1526.0,1115.1 1529.8,1116.4 1533.7,1117.3 1536.9,1116.2 1540.1,1116.3 1543.2,1117.3 1546.4,1118.6 1550.2,1118.1 1554.1,1117.3 1558.3,1118.1 1562.6,1117.2 1566.8,1118.1 1571.9,1119.2 1577.0,1120.7 1580.8,1120.0 1584.7,1120.7 1589.8,1119.9 1594.9,1119.9 1598.8,1122.8 1602.6,1124.5 1606.4,1127.3 1610.2,1129.6 1615.3,1130.6 1620.4,1132.9 1623.6,1134.0 1626.8,1133.4 1631.2,1136.4 1635.7,1139.8 1640.0,1142.9 1644.2,1146.1 1648.5,1148.7 1652.7,1151.8 1657.0,1155.2 1661.2,1158.9 1664.4,1159.5 1667.6,1160.7 1671.4,1163.6 1675.3,1166.9 1679.1,1169.1 1681.0,1171.7 1682.9,1175.0 1686.1,1176.6 1689.3,1176.8 1692.9,1179.5 1696.4,1181.9 1700.0,1184.5 1702.5,1186.4 1705.1,1189.3 1708.9,1189.9 1712.8,1189.8 1715.3,1192.3 1717.9,1195.7 1721.7,1197.8 1725.5,1199.0 1729.3,1199.5 1733.2,1200.8 1737.4,1203.8 1741.7,1206.2 1745.9,1208.4 1749.3,1211.2 1752.7,1214.1 1756.1,1217.3 1760.4,1219.0 1764.6,1220.4 1768.9,1222.0 1773.5,1224.4 1778.1,1227.0 1783.4,1229.9 1788.8,1231.4 1792.5,1234.1 1796.2,1237.0 1799.9,1240.3 1803.6,1242.9 1807.4,1242.5 1811.2,1242.3 1813.8,1245.2 1816.3,1248.5 1818.9,1251.8 1822.1,1251.1 1825.3,1251.8 1828.3,1254.4 1831.2,1258.1 1834.2,1260.7 1837.4,1260.9 1840.6,1261.2 1844.4,1264.1 1848.2,1267.1 1851.4,1267.9 1854.6,1268.9 1857.2,1272.1 1859.7,1276.0 1863.9,1278.5 1868.2,1281.3 1872.4,1284.9 1877.6,1286.7 1882.7,1288.3 1886.1,1290.9 1889.5,1294.2 1892.9,1296.9 1896.1,1297.4 1899.2,1298.5 1902.4,1301.4 1905.6,1303.6 1910.7,1304.6 1913.9,1308.4 1917.1,1311.2 1920.3,1311.5 1923.5,1312.2 1926.0,1314.6 1928.6,1316.8 1931.8,1316.2 1934.9,1316.8 1938.7,1319.9 1942.6,1322.5 1946.4,1325.8 1949.6,1326.1 1952.8,1326.5 1956.0,1330.0 1959.2,1332.7 1964.3,1335.0 1969.4,1336.0 1974.5,1337.8 1979.6,1340.3 1984.7,1342.3 1989.8,1344.4 1993.6,1346.5 1997.5,1348.4 2001.3,1351.3 2006.0,1351.9 2010.6,1353.3 2015.3,1355.1 2019.8,1354.7 2024.2,1354.6 2027.4,1357.8 2030.6,1361.5 2035.0,1360.3 2039.5,1360.2 2042.0,1361.8 2044.6,1364.0 2050.3,1364.1 2056.1,1364.8 2061.2,1367.0 2066.3,1368.4 2070.8,1369.3 2075.3,1369.1 2080.1,1371.1 2084.9,1372.4 2089.6,1373.2 2094.4,1375.5 2099.5,1376.1 2104.6,1375.5 2108.4,1377.8 2112.2,1379.3 2117.3,1378.1 2122.4,1378.1 2127.5,1378.5 2132.7,1379.7 2137.8,1380.6 2143.7,1380.5 2149.7,1382.3 2155.6,1381.9 2159.4,1383.7 2163.3,1385.2 2169.0,1385.6 2174.7,1385.7 2179.2,1386.6 2183.7,1388.3 2186.9,1386.6 2190.1,1385.2 2193.9,1388.1 2197.7,1390.8 2200.9,1390.6 2204.1,1389.5 2209.2,1390.8 2214.3,1389.0 2219.4,1392.1 2224.5,1391.4 2229.6,1391.3 2234.7,1392.2 2239.8,1393.4 2244.9,1394.4 2250.0,1395.9 2256.0,1395.9 2261.9,1395.6 2267.9,1395.9 2273.0,1398.0 2277.4,1396.5 2281.9,1395.9 2285.7,1399.0 2290.8,1400.7 2295.9,1402.3 2300.2,1402.7 2304.4,1402.6 2308.7,1401.5 2312.9,1403.1 2317.2,1403.0 2321.4,1404.1 2325.7,1404.5 2329.9,1402.8 2334.2,1403.1 2338.0,1404.0 2341.8,1405.6 2345.7,1402.3 2348.4,1403.6 2351.2,1405.7 2356.6,1406.1 2362.0,1406.0 2365.0,1405.9 2368.0,1406.6 2372.0,1406.9 2376.0,1407.2 2380.0,1408.4 2384.0,1408.4" fill="none" stroke="#0070c0" stroke-width="5.4" stroke-linejoin="round" stroke-linecap="butt"/>
<g font-family="'Liberation Serif', 'Times New Roman', serif" font-size="48.5" fill="#000">
<text transform="translate(143.2,1445.5) scale(0.91,1)" text-anchor="end">0</text>
<text transform="translate(143.2,1214.2) scale(0.91,1)" text-anchor="end">0.2</text>
<text transform="translate(143.2,982.8) scale(0.91,1)" text-anchor="end">0.4</text>
<text transform="translate(143.2,751.5) scale(0.91,1)" text-anchor="end">0.6</text>
<text transform="translate(143.2,520.2) scale(0.91,1)" text-anchor="end">0.8</text>
<text transform="translate(143.2,288.8) scale(0.91,1)" text-anchor="end">1</text>
<text transform="translate(143.2,57.5) scale(0.91,1)" text-anchor="end">1.2</text>
<text transform="translate(182.9,1499) scale(0.95,1)" text-anchor="middle">250</text>
<text transform="translate(670.5,1499) scale(0.95,1)" text-anchor="middle">350</text>
<text transform="translate(1158.2,1499) scale(0.95,1)" text-anchor="middle">450</text>
<text transform="translate(1646.4,1499) scale(0.95,1)" text-anchor="middle">550</text>
<text transform="translate(2133.5,1499) scale(0.95,1)" text-anchor="middle">650</text>
</g>
<g font-family="'Liberation Serif', 'Times New Roman', serif" font-size="60" font-weight="bold" fill="#000">
<text x="1282.4" y="1580" text-anchor="middle">Wavelength (nm)</text>
<text transform="translate(60.8,731.9) rotate(-90) scale(1.0116,1)" text-anchor="middle">Normalized absorbance</text>
</g>
<g font-family="'DejaVu Sans', Verdana, sans-serif" font-size="60" fill="#000" style="font-kerning:none">
<text x="493.5" y="322.5" word-spacing="4">340 nm</text>
<text x="834.5" y="513.5" word-spacing="4">410 nm</text>
<text x="1099.5" y="601.5" word-spacing="4">460 nm</text>
<text x="1459.5" y="769.5" word-spacing="4">540 nm</text>
<text x="1988" y="944.5">mini-<tspan dx="5">DAWN</tspan></text>
<text x="1916.5" y="1029.5" letter-spacing="-0.37" word-spacing="2.5">laser wavelength</text>
</g>
<line x1="611" y1="333" x2="611" y2="646.0" stroke="#000" stroke-width="2"/><path d="M611,672 L599,633.5 L611,643.0 L622,633.5 Z" fill="#000"/>
<line x1="953.5" y1="535.3" x2="953.5" y2="846.8" stroke="#000" stroke-width="3"/><path d="M953,872.8 L941.8,834.3 L953.5,843.8 L964.2,834.3 Z" fill="#000"/>
<line x1="1210.4" y1="623" x2="1210.4" y2="935.3" stroke="#000" stroke-width="3"/><path d="M1210.4,961.8 L1199.2,923.8 L1210.4,932.3 L1221.6000000000001,923.8 Z" fill="#000"/>
<line x1="1575.6" y1="784.7" x2="1575.6" y2="1097.1" stroke="#000" stroke-width="3"/><path d="M1575.6,1123.8 L1565.8,1089.1 L1575.6,1094.1 L1586.0,1089.1 Z" fill="#000"/>
<line x1="2175.5" y1="1051.2" x2="2175.5" y2="1362.9" stroke="#000" stroke-width="3"/><path d="M2175.5,1389.7 L2164.0,1350.9 L2175.5,1359.9 L2183.5,1354.0 Z" fill="#000"/>
</svg>
</body></html>
